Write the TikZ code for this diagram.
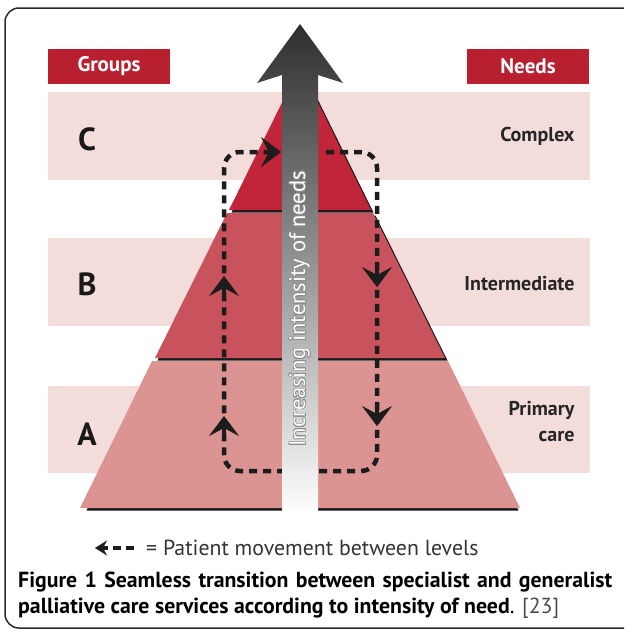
\documentclass[tikz,border=0pt]{standalone}
\usepackage{fontspec}
\setmainfont{PT Sans}
\usepackage{contour}
\usetikzlibrary{arrows.meta,positioning}

\definecolor{crimson}{HTML}{B8202F}
\definecolor{bandpink}{HTML}{F3DDDB}
\definecolor{tierC}{HTML}{C1253A}
\definecolor{tierB}{HTML}{C9535D}
\definecolor{tierA}{HTML}{DC9492}
\definecolor{loopblack}{HTML}{1C1C1C}
\definecolor{framegray}{HTML}{2A2A2A}
\definecolor{legendgray}{HTML}{333333}

\contourlength{0.7pt}

\tikzset{
  headbox/.style={fill=crimson, text=white, font=\bfseries\fontsize{21}{24}\selectfont,
    minimum width=122pt, minimum height=35pt, inner sep=0pt},
  band/.style={fill=bandpink},
  grouplabel/.style={font=\bfseries\fontsize{32}{36}\selectfont, text=black!90},
  needlabel/.style={font=\bfseries\fontsize{20}{26}\selectfont, text=black!85, align=right, anchor=east},
  tiershadow/.style={fill=black!90, shift={(2.5,2.5)}},
  loopline/.style={draw=loopblack, line width=4.5pt, dash pattern=on 8pt off 6pt, rounded corners=16pt},
  looptip/.style={draw=loopblack, line width=4.5pt,
    -{Stealth[length=20pt, width=30pt, inset=8pt, line width=0.5pt]}},
  captext/.style={anchor=base west, inner sep=0pt, font=\fontsize{21.8}{25}\selectfont}
}

\begin{document}
\begin{tikzpicture}[x=1pt, y=-1pt]
  \useasboundingbox (0,0) rectangle (624,632);

  % frame
  \draw[framegray, line width=1.5pt, rounded corners=14pt] (624,8) -- (5,8) -- (5,628) -- (624,628);

  % bands
  \fill[band] (48,92) rectangle (590,180);
  \fill[band] (48,238) rectangle (590,326);
  \fill[band] (48,386) rectangle (590,473);

  % headers
  \node[headbox] (groups) at (109,66.5) {Groups};
  \node[headbox] (needs) at (528,66.5) {Needs};

  % pyramid
  \fill[tiershadow] (84,508) -- (156,361) -- (444,361) -- (516,508) -- cycle;
  \fill[tierA] (80,508) -- (152,361) -- (448,361) -- (520,508) -- cycle;
  \fill[tiershadow] (155,358) -- (227,213) -- (373,213) -- (445,358) -- cycle;
  \fill[tierB] (155,358) -- (227,213) -- (373,213) -- (445,358) -- cycle;
  \fill[tiershadow] (229,210) -- (300,66) -- (371,210) -- cycle;
  \fill[tierC] (229,210) -- (300,66) -- (371,210) -- cycle;

  % group and need labels
  \node[grouplabel] (grpC) at (87,139) {C};
  \node[grouplabel] (grpB) at (87,284) {B};
  \node[grouplabel] (grpA) at (87,434) {A};
  \node[needlabel] (needC) at (578,136) {Complex};
  \node[needlabel] (needB) at (578,284) {Intermediate};
  \node[needlabel] (needA) at (578,422) {Primary\\care};

  % patient movement loop
  \coordinate (lpStart) at (326,152);
  \coordinate (lpTR) at (377,152);
  \coordinate (lpBR) at (377,471);
  \coordinate (lpBL) at (224,471);
  \coordinate (lpTL) at (224,152);
  \coordinate (lpEnd) at (281,152);
  \draw[loopline, -{Stealth[length=20pt, width=30pt, inset=8pt, line width=0.5pt]}]
    (lpStart) -- (lpTR) -- (lpBR) -- (lpBL) -- (lpTL) -- (lpEnd);
  \draw[looptip] (224,300) -- (224,276);
  \draw[looptip] (224,440) -- (224,416);
  \draw[looptip] (377,262) -- (377,287);
  \draw[looptip] (377,402) -- (377,426);

  % rising arrow
  \shade[top color=black!82, middle color=black!48, bottom color=white]
    (300,24) -- (343,83) -- (318,75) -- (318,516) -- (282,516) -- (282,75) -- (257,83) -- cycle;
  \node[rotate=90, text=white, font=\fontsize{22.5}{26}\selectfont] (rise) at (300,309)
    {\contour{black!45}{Increasing intensity of needs}};

  % legend
  \coordinate (lgStart) at (134,548);
  \coordinate (lgEnd) at (95,548);
  \draw[draw=loopblack, line width=4pt, dash pattern=on 8pt off 5pt,
    -{Stealth[length=12pt, width=15pt, inset=4pt, line width=0.5pt]}] (lgStart) -- (lgEnd);
  \node[anchor=west, inner sep=0pt, text=legendgray, font=\fontsize{21.8}{25}\selectfont] (legend) at (146,548)
    {= Patient movement between levels};

  % caption
  \node[captext] (cap1) at (18,587)
    {\makebox[594pt][s]{\textbf{Figure 1 Seamless transition between specialist and generalist}}};
  \node[captext] (cap2) at (18,613)
    {\textbf{palliative care services according to intensity of need}. {\color{black!70}[23]}};
\end{tikzpicture}
\end{document}
